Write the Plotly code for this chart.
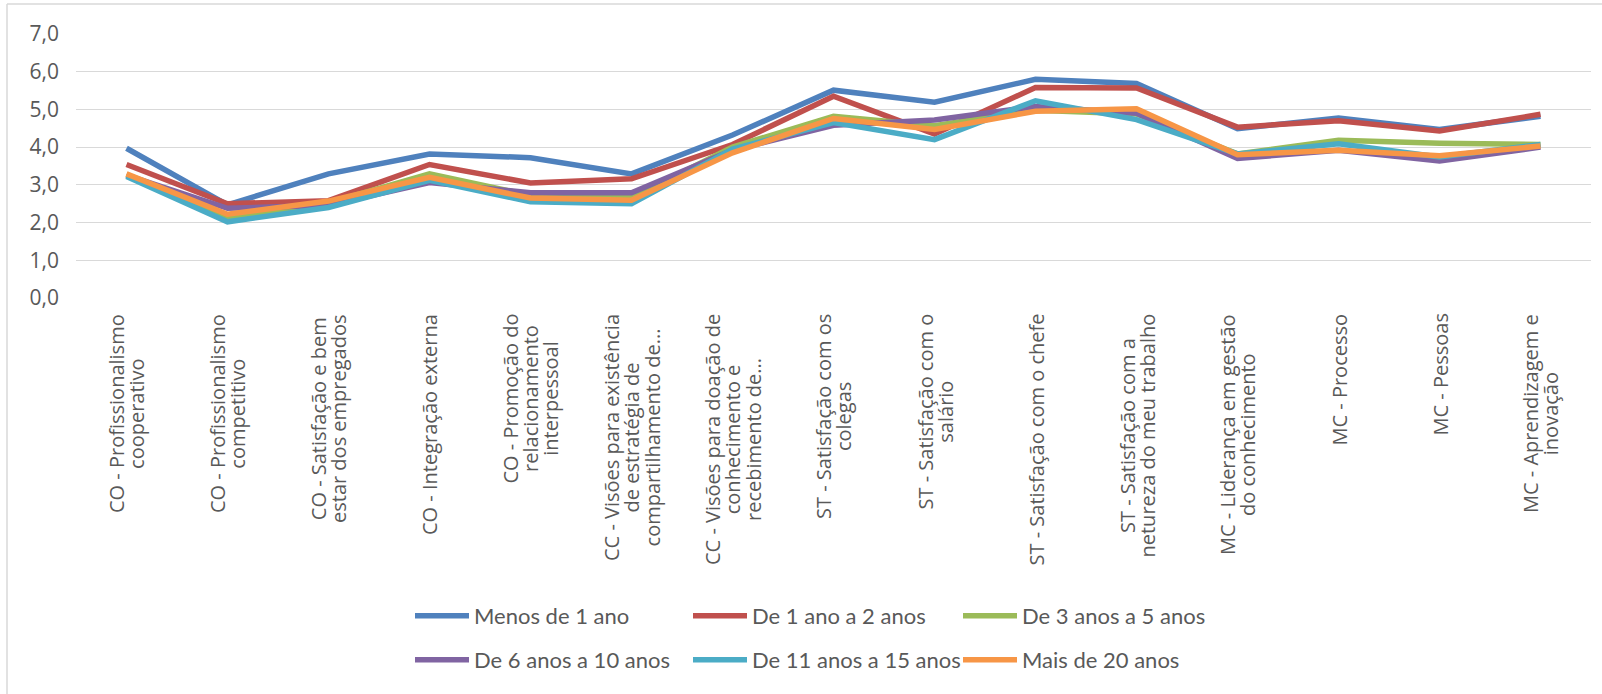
import plotly.graph_objects as go

# Category labels (line breaks as shown under the axis)
categories = [
    "CO - Profissionalismo<br>cooperativo",
    "CO - Profissionalismo<br>competitivo",
    "CO - Satisfação e bem<br>estar dos empregados",
    "CO - Integração externa",
    "CO - Promoção do<br>relacionamento<br>interpessoal",
    "CC - Visões para existência<br>de estratégia de<br>compartilhamento de...",
    "CC - Visões para doação de<br>conhecimento e<br>recebimento de...",
    "ST - Satisfação com os<br>colegas",
    "ST - Satisfação com o<br>salário",
    "ST - Satisfação com o chefe",
    "ST - Satisfação com a<br>netureza do meu trabalho",
    "MC - Liderança em gestão<br>do conhecimento",
    "MC - Processo",
    "MC - Pessoas",
    "MC - Aprendizagem e<br>inovação",
]

menos_1 = [3.97, 2.47, 3.29, 3.82, 3.72, 3.29, 4.32, 5.51, 5.19, 5.80, 5.69, 4.49, 4.77, 4.47, 4.82]
de_1_a_2 = [3.54, 2.50, 2.58, 3.54, 3.05, 3.16, 4.07, 5.35, 4.35, 5.58, 5.57, 4.53, 4.70, 4.43, 4.87]
de_3_a_5 = [3.27, 2.12, 2.52, 3.29, 2.72, 2.66, 4.00, 4.82, 4.57, 4.98, 4.88, 3.82, 4.18, 4.10, 4.07]
de_6_a_10 = [3.26, 2.38, 2.46, 3.06, 2.79, 2.79, 3.92, 4.58, 4.72, 5.08, 4.90, 3.70, 3.92, 3.63, 4.00]
de_11_a_15 = [3.22, 2.02, 2.40, 3.12, 2.55, 2.50, 3.95, 4.65, 4.20, 5.23, 4.73, 3.82, 4.09, 3.74, 4.07]
mais_20 = [3.29, 2.22, 2.57, 3.20, 2.65, 2.59, 3.85, 4.76, 4.47, 4.95, 5.02, 3.80, 3.92, 3.77, 4.03]

series_names = [
    "Menos de 1 ano", "De 1 ano a 2 anos", "De 3 anos a 5 anos",
    "De 6 anos a 10 anos", "De 11 anos a 15 anos", "Mais de 20 anos",
]
series_values = [menos_1, de_1_a_2, de_3_a_5, de_6_a_10, de_11_a_15, mais_20]
colors = ["#4F81BD", "#C0504D", "#9BBB59", "#8064A2", "#4BACC6", "#F79646"]

# Pixel geometry of the figure
W, H = 1602, 694
L, R, T, B = 76, 11, 34, 396
plot_w = W - L - R
plot_h = H - T - B


def px_to_paper_x(px):
    return (px - L) / plot_w


def px_to_paper_y(py):
    return (H - B - py) / plot_h


fig = go.Figure()

legend_names = ["legend", "legend2", "legend3", "legend4", "legend5", "legend6"]
legend_pos = [(416, 616), (694, 616), (964, 616), (416, 660), (694, 660), (964, 660)]

for name, vals, col, lg in zip(series_names, series_values, colors, legend_names):
    fig.add_trace(go.Scatter(
        x=categories, y=vals, name=name, mode="lines",
        line=dict(color=col, width=5.5),
        legend=lg, showlegend=True,
    ))

legend_font = dict(family="Lato, Liberation Sans, sans-serif", size=22, color="#595959")
legend_layouts = {}
for lg, (lx, ly) in zip(legend_names, legend_pos):
    legend_layouts[lg] = dict(
        x=px_to_paper_x(lx - 6), y=px_to_paper_y(ly),
        xanchor="left", yanchor="middle",
        orientation="h", itemwidth=54,
        font=legend_font, bgcolor="rgba(0,0,0,0)",
        borderwidth=0, visible=True,
    )

# Rotated category labels under the plot; the outer font size sets the
# line pitch, the inner span sets the glyph size.
label_px = 20


def label_text(c):
    return "<br>".join(
        f"<span style='font-size:{label_px}px'>{part}</span>" for part in c.split("<br>")
    )


annotations = []
for c in categories:
    annotations.append(dict(
        x=c, y=0, xref="x", yref="paper",
        text=label_text(c), showarrow=False, textangle=-90,
        xanchor="center", yanchor="top", align="center",
        yshift=-14,
        font=dict(family="Open Sans, sans-serif", size=15.7, color="#595959"),
    ))

# Chart frame (left and top edges)
shapes = [
    dict(type="line", xref="paper", yref="paper",
         x0=px_to_paper_x(7), x1=px_to_paper_x(7),
         y0=px_to_paper_y(4), y1=px_to_paper_y(H),
         line=dict(color="#D9D9D9", width=1.5)),
    dict(type="line", xref="paper", yref="paper",
         x0=px_to_paper_x(7), x1=px_to_paper_x(W),
         y0=px_to_paper_y(4), y1=px_to_paper_y(4),
         line=dict(color="#D9D9D9", width=1.5)),
]

fig.update_layout(
    width=W, height=H,
    margin=dict(l=L, r=R, t=T, b=B, pad=0),
    paper_bgcolor="white", plot_bgcolor="white",
    separators=",.",
    showlegend=True,
    annotations=annotations,
    shapes=shapes,
    **legend_layouts,
)

fig.update_xaxes(
    type="category", range=[-0.5, 14.5],
    showticklabels=False, showgrid=False, zeroline=False, showline=False,
)
fig.update_yaxes(
    range=[0, 7], dtick=1, tickformat=".1f",
    showgrid=True, gridcolor="#D9D9D9", gridwidth=1.3,
    zeroline=False, showline=False,
    ticklabelstandoff=16,
    tickfont=dict(family="Open Sans, sans-serif", size=21, color="#595959"),
)

fig.write_html("out.html")
